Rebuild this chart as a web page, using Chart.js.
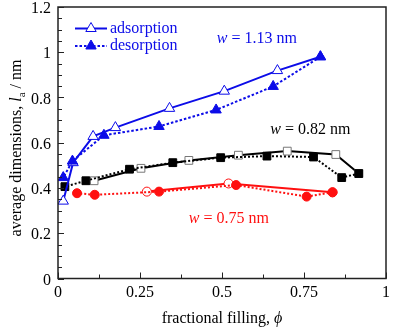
<!DOCTYPE html>
<html>
<head>
<meta charset="utf-8">
<script src="https://cdn.jsdelivr.net/npm/chart.js@4/dist/chart.umd.min.js"></script>
<style>
  html, body { margin: 0; padding: 0; background: #fff; }
  canvas { display: block; }
</style>
</head>
<body>
<canvas id="myChart" width="393" height="329"></canvas>
<script>
// w = 1.13 nm
const blueAdsX = [0.016, 0.046, 0.107, 0.175, 0.340, 0.507, 0.669, 0.800];
const blueAdsY = [0.342, 0.512, 0.628, 0.667, 0.752, 0.828, 0.919, 0.980];
const blueDesX = [0.800, 0.656, 0.482, 0.308, 0.140, 0.044, 0.016];
const blueDesY = [0.980, 0.849, 0.745, 0.672, 0.633, 0.519, 0.446];

// w = 0.82 nm
const blackAdsX = [0.110, 0.253, 0.399, 0.550, 0.699, 0.847, 0.917];
const blackAdsY = [0.432, 0.487, 0.522, 0.545, 0.563, 0.548, 0.464];
const blackDesX = [0.917, 0.865, 0.779, 0.637, 0.496, 0.350, 0.218, 0.085, 0.021];
const blackDesY = [0.464, 0.446, 0.537, 0.541, 0.534, 0.512, 0.483, 0.432, 0.406];

// w = 0.75 nm
const redAdsX = [0.271, 0.520, 0.837];
const redAdsY = [0.384, 0.420, 0.381];
const redDesX = [0.837, 0.758, 0.543, 0.308, 0.112, 0.058];
const redDesY = [0.381, 0.362, 0.413, 0.384, 0.370, 0.377];

const xTicks = [0, 0.25, 0.5, 0.75, 1];
const xTickLabels = ['0', '0.25', '0.5', '0.75', '1'];
const yTicks = [0, 0.2, 0.4, 0.6, 0.8, 1, 1.2];
const yTickLabels = ['0', '0.2', '0.4', '0.6', '0.8', '1', '1.2'];

const BLUE = '#0c0ce8';
const RED = '#ff1010';
const BLACK = '#000000';
const FONT = '"Liberation Serif", "Times New Roman", serif';

function pts(xs, ys) {
  return xs.map((x, i) => ({ x: x, y: ys[i] }));
}

function drawMarker(ctx, x, y, r, fill, stroke) {
  ctx.save();
  ctx.fillStyle = fill;
  ctx.strokeStyle = stroke;
  ctx.lineWidth = 1;
  ctx.beginPath();
  ctx.moveTo(x, y - r);
  ctx.lineTo(x + r * 0.866, y + r * 0.5);
  ctx.lineTo(x - r * 0.866, y + r * 0.5);
  ctx.closePath();
  ctx.fill();
  ctx.stroke();
  ctx.restore();
}

const decorations = {
  id: 'decorations',
  afterDraw(chart) {
    const ctx = chart.ctx;
    const area = chart.chartArea;
    const xs = chart.scales.x;
    const ys = chart.scales.y;
    ctx.save();

    // frame
    ctx.strokeStyle = '#222';
    ctx.lineWidth = 1.5;
    ctx.strokeRect(area.left, area.top, area.right - area.left, area.bottom - area.top);

    // inward ticks
    ctx.lineWidth = 1;
    ctx.beginPath();
    for (let i = 0; i <= 8; i++) {
      const px = Math.round(xs.getPixelForValue(i * 0.125)) + 0.5;
      const len = i % 2 === 0 ? 6 : 4;
      ctx.moveTo(px, area.bottom);
      ctx.lineTo(px, area.bottom - len);
    }
    for (let i = 0; i <= 24; i++) {
      const py = Math.round(ys.getPixelForValue(i * 0.05)) + 0.5;
      const len = i % 4 === 0 ? 6 : 4;
      ctx.moveTo(area.left, py);
      ctx.lineTo(area.left + len, py);
    }
    ctx.stroke();

    // tick labels
    ctx.fillStyle = '#000';
    ctx.font = '16px ' + FONT;
    ctx.textAlign = 'center';
    ctx.textBaseline = 'top';
    xTicks.forEach((v, i) => {
      ctx.fillText(xTickLabels[i], xs.getPixelForValue(v), area.bottom + 6);
    });
    ctx.textAlign = 'right';
    ctx.textBaseline = 'middle';
    yTicks.forEach((v, i) => {
      const py = Math.max(ys.getPixelForValue(v) + 2, 9);
      ctx.fillText(yTickLabels[i], area.left - 7, py);
    });

    // x title
    ctx.textBaseline = 'alphabetic';
    ctx.textAlign = 'left';
    const t1 = 'fractional filling, ';
    ctx.font = '16px ' + FONT;
    const w1 = ctx.measureText(t1).width;
    ctx.font = 'italic 16px ' + FONT;
    const w2 = ctx.measureText('\u03D5').width;
    const sx = (area.left + area.right) / 2 - (w1 + w2) / 2;
    ctx.font = '16px ' + FONT;
    ctx.fillText(t1, sx, 323);
    ctx.font = 'italic 16px ' + FONT;
    ctx.fillText('\u03D5', sx + w1, 323);

    // y title (rotated)
    const parts = [
      { t: 'average dimensions, ', f: '16px ' + FONT, dy: 0 },
      { t: 'l', f: 'italic 16px ' + FONT, dy: 0 },
      { t: 'a', f: '11px ' + FONT, dy: 4 },
      { t: ' / nm', f: '16px ' + FONT, dy: 0 }
    ];
    let total = 0;
    parts.forEach(p => { ctx.font = p.f; p.w = ctx.measureText(p.t).width; total += p.w; });
    ctx.save();
    ctx.translate(21, 148);
    ctx.rotate(-Math.PI / 2);
    let cx = -total / 2;
    parts.forEach(p => {
      ctx.font = p.f;
      ctx.fillText(p.t, cx, p.dy);
      cx += p.w;
    });
    ctx.restore();

    // series labels
    const labels = [
      { x: 0.484, y: 1.043, num: ' = 1.13 nm', color: BLUE },
      { x: 0.647, y: 0.640, num: ' = 0.82 nm', color: BLACK },
      { x: 0.399, y: 0.247, num: ' = 0.75 nm', color: RED }
    ];
    labels.forEach(l => {
      const px = xs.getPixelForValue(l.x);
      const py = ys.getPixelForValue(l.y);
      ctx.fillStyle = l.color;
      ctx.font = 'italic 16px ' + FONT;
      ctx.fillText('w', px, py);
      const ww = ctx.measureText('w').width;
      ctx.font = '16px ' + FONT;
      ctx.fillText(l.num, px + ww, py);
    });

    // legend
    const lx0 = area.left + 17, lx1 = area.left + 49;
    const rows = [
      { y: 28.5, dash: [], fill: '#fff', text: 'adsorption' },
      { y: 46, dash: [2.5, 2], fill: BLUE, text: 'desorption' }
    ];
    rows.forEach(r => {
      ctx.strokeStyle = BLUE;
      ctx.lineWidth = 2;
      ctx.setLineDash(r.dash);
      ctx.beginPath();
      ctx.moveTo(lx0, r.y);
      ctx.lineTo(lx1, r.y);
      ctx.stroke();
      ctx.setLineDash([]);
      drawMarker(ctx, (lx0 + lx1) / 2, r.y, 6, r.fill, BLUE);
      ctx.fillStyle = BLUE;
      ctx.font = '16px ' + FONT;
      ctx.textBaseline = 'middle';
      ctx.fillText(r.text, lx1 + 3, r.y);
      ctx.textBaseline = 'alphabetic';
    });

    ctx.restore();
  }
};

function series(label, xs, ys, color, style, radius, open, dash, borderColor) {
  return {
    label: label,
    data: pts(xs, ys),
    showLine: true,
    borderColor: color,
    borderWidth: 2,
    borderDash: dash,
    pointStyle: style,
    pointRadius: radius,
    pointHoverRadius: radius,
    pointBackgroundColor: open ? '#ffffff' : color,
    pointBorderColor: borderColor || color,
    pointBorderWidth: 1,
    tension: 0
  };
}

const chartContext = document.getElementById('myChart').getContext('2d');
const myChart = new Chart(chartContext, {
  type: 'scatter',
  data: {
    datasets: [
      series('blue desorption', blueDesX, blueDesY, BLUE, 'triangle', 6, false, [2.5, 2]),
      series('blue adsorption', blueAdsX, blueAdsY, BLUE, 'triangle', 6, true, []),
      series('black desorption', blackDesX, blackDesY, BLACK, 'rect', 5.5, false, [2, 2]),
      series('black adsorption', blackAdsX, blackAdsY, BLACK, 'rect', 5.5, true, [], '#777'),
      series('red desorption', redDesX, redDesY, RED, 'circle', 4.5, false, [2, 2]),
      series('red adsorption', redAdsX, redAdsY, RED, 'circle', 4.5, true, [])
    ]
  },
  options: {
    responsive: false,
    animation: false,
    devicePixelRatio: 1,
    layout: {
      padding: { left: 58, top: 4, right: 5, bottom: 50.5 }
    },
    plugins: {
      legend: { display: false },
      tooltip: { enabled: false }
    },
    scales: {
      x: { type: 'linear', min: 0, max: 1, display: false },
      y: { type: 'linear', min: 0, max: 1.2, display: false }
    }
  },
  plugins: [decorations]
});
</script>
</body>
</html>
